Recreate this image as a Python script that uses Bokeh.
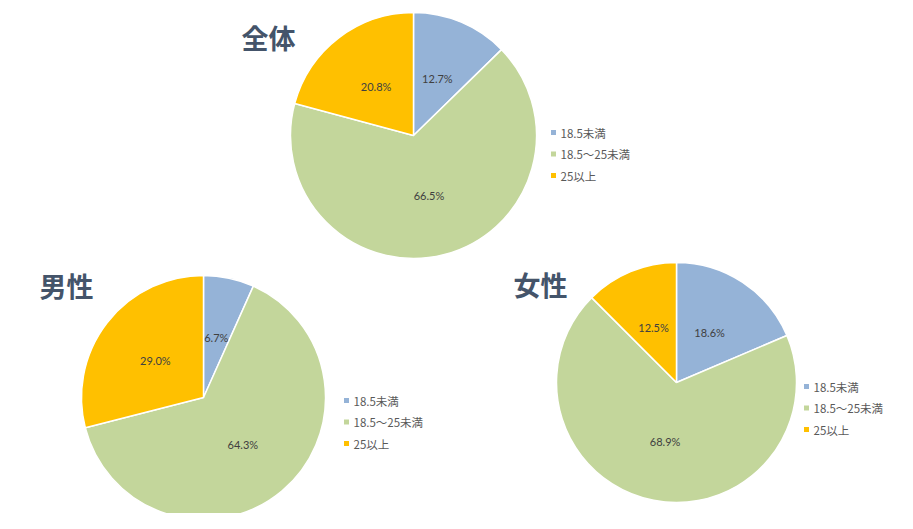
import math
from bokeh.plotting import figure
from bokeh.models import Range1d, ColumnDataSource
from bokeh.core.properties import value
from bokeh.embed import file_html
from bokeh.resources import INLINE

# ---- data ----
groups = ["全体", "男性", "女性"]
categories = ["18.5未満", "18.5～25未満", "25以上"]
under_185 = [12.7, 6.7, 18.6]
between = [66.5, 64.3, 68.9]
over_25 = [20.8, 29.0, 12.5]
colors = ["#95B3D7", "#C3D69B", "#FFC000"]

# ---- layout (picture pixel coordinates) ----
W, H = 897, 513
centers = [(413, 135), (203, 397), (676, 382)]
radii = [123, 122, 120]
title_pos = [(268, 37), (66, 285), (540, 284)]
legend_pos = [(553, 132), (346, 400), (806, 386)]
legend_step = 21.5

def Y(py):
    return H - py

p = figure(width=W, height=H, output_backend="svg", toolbar_location=None,
           x_range=Range1d(0, W), y_range=Range1d(0, H), min_border=0)
p.axis.visible = False
p.grid.visible = False
p.outline_line_color = None
p.background_fill_color = "white"
p.border_fill_color = "white"

for g in range(len(groups)):
    vals = [under_185[g], between[g], over_25[g]]
    total = sum(vals)
    cx, cy = centers[g]
    r = radii[g]
    starts, ends, lx, ly, labels = [], [], [], [], []
    cum = 0.0
    for v in vals:
        c0 = cum / total
        cum += v
        c1 = cum / total
        starts.append(math.pi / 2 - 2 * math.pi * c1)
        ends.append(math.pi / 2 - 2 * math.pi * c0)
        mid = math.pi / 2 - 2 * math.pi * (c0 + c1) / 2
        lx.append(cx + 0.5 * r * math.cos(mid))
        ly.append(Y(cy) + 0.5 * r * math.sin(mid))
        labels.append(f"{v:.1f}%")
    src = ColumnDataSource(dict(start=starts, end=ends, color=colors))
    p.wedge(x=cx, y=Y(cy), radius=r, start_angle="start", end_angle="end",
            direction="anticlock", fill_color="color", line_color="white",
            line_width=1.5, source=src)
    p.text(x=lx, y=ly, text=labels, text_align="center", text_baseline="middle",
           text_font=value("Lato"), text_font_size="11px", text_color="#404040")
    # title
    tx, ty = title_pos[g]
    p.text(x=[tx], y=[Y(ty)], text=[groups[g]], text_align="center",
           text_baseline="middle", text_font=value("Noto Sans CJK JP"),
           text_font_style="bold", text_font_size="27px", text_color="#44546A")
    # legend
    mx, my = legend_pos[g]
    ys = [Y(my + i * legend_step) for i in range(len(categories))]
    p.scatter(x=[mx] * 3, y=ys, marker="square", size=5, fill_color=colors,
              line_color=None)
    p.text(x=[mx + 7] * 3, y=ys, text=categories, text_align="left",
           text_baseline="middle", text_font=value("Noto Sans CJK JP"),
           text_font_size="11.5px", text_color="#595959")

open("out.html", "w").write(file_html(p, INLINE))
